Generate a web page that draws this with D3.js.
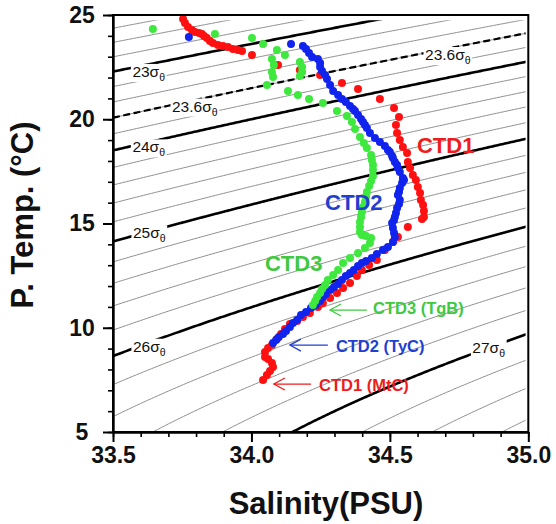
<!DOCTYPE html>
<html>
<head>
<meta charset="utf-8">
<script src="https://cdn.jsdelivr.net/npm/d3@7"></script>
<style>
  body { margin: 0; background: #fff; }
  svg { display: block; font-family: Arial, "Liberation Sans", Helvetica, sans-serif; }
</style>
</head>
<body>
<svg id="chart" width="556" height="524"></svg>
<script>
// ---- Axis ticks ----
const salTicks = [33.5, 34.0, 34.5, 35.0];
const salMinorTicks = d3.range(335, 351).map(k => k / 10);
const tempTicks = [5, 10, 15, 20, 25];
const tempMinorTicks = d3.range(5, 26);

// ---- Density (sigma-theta) contour levels ----
const thinLevels = d3.range(105, 141).map(k => k / 5);
const thickLevels = [23, 24, 25, 26, 27];
const dashedLevels = [23.6];

// ---- CTD1 (MtC) profile: salinity (PSU), potential temperature (°C) ----
const ctd1Sal = [33.753, 33.760, 33.771, 33.785, 33.796, 33.811, 33.821, 33.829, 33.839, 33.850,
  33.861, 33.879, 33.897, 33.915, 33.933, 33.951, 33.966, 34.002, 34.096, 34.175,
  34.248, 34.327, 34.385, 34.464, 34.515, 34.533, 34.522, 34.526, 34.536, 34.547,
  34.562, 34.565, 34.573, 34.583, 34.594, 34.601, 34.609, 34.612, 34.620, 34.623,
  34.623, 34.616, 34.565, 34.529, 34.511, 34.482, 34.453, 34.425, 34.399, 34.381,
  34.356, 34.331, 34.309, 34.284, 34.258, 34.240, 34.211, 34.186, 34.165, 34.139,
  34.121, 34.107, 34.092, 34.074, 34.060, 34.049, 34.049, 34.060, 34.074, 34.078,
  34.067, 34.056, 34.042];
const ctd1Temp = [24.81, 24.62, 24.42, 24.28, 24.18, 24.14, 24.09, 23.99, 23.90, 23.75,
  23.66, 23.56, 23.51, 23.47, 23.37, 23.32, 23.27, 23.08, 22.60, 22.36,
  22.12, 21.74, 21.45, 20.97, 20.54, 20.11, 19.72, 19.34, 19.00, 18.67,
  18.38, 17.95, 17.66, 17.33, 17.09, 16.75, 16.46, 16.13, 15.89, 15.60,
  15.31, 15.22, 14.83, 14.35, 14.11, 13.73, 13.25, 13.01, 12.77, 12.48,
  12.15, 11.91, 11.67, 11.43, 11.19, 11.00, 10.71, 10.52, 10.32, 10.18,
  9.94, 9.70, 9.46, 9.17, 9.03, 8.84, 8.60, 8.50, 8.31, 8.12,
  7.93, 7.73, 7.49];

// ---- CTD2 (TyC) profile ----
const ctd2Sal = [33.774, 34.143, 34.186, 34.197, 34.208, 34.219, 34.240, 34.248, 34.248, 34.255,
  34.266, 34.273, 34.284, 34.295, 34.313, 34.327, 34.341, 34.356, 34.367, 34.374,
  34.385, 34.396, 34.403, 34.410, 34.417, 34.428, 34.446, 34.464, 34.482, 34.493,
  34.500, 34.508, 34.511, 34.518, 34.526, 34.529, 34.536, 34.547, 34.551, 34.544,
  34.536, 34.533, 34.529, 34.536, 34.533, 34.526, 34.522, 34.518, 34.515, 34.508,
  34.511, 34.515, 34.518, 34.511, 34.493, 34.475, 34.453, 34.435, 34.414, 34.399,
  34.385, 34.370, 34.356, 34.341, 34.327, 34.313, 34.298, 34.284, 34.269, 34.258,
  34.248, 34.233, 34.215, 34.197, 34.179, 34.165, 34.150, 34.139, 34.125, 34.114,
  34.099, 34.089, 34.078];
const ctd2Temp = [23.94, 23.61, 23.51, 23.37, 23.18, 22.99, 22.89, 22.70, 22.51, 22.31,
  22.12, 21.93, 21.64, 21.35, 21.16, 20.97, 20.83, 20.64, 20.49, 20.40,
  20.20, 20.01, 19.87, 19.72, 19.58, 19.34, 19.10, 18.91, 18.72, 18.53,
  18.43, 18.24, 18.14, 17.95, 17.81, 17.66, 17.47, 17.18, 17.09, 16.94,
  16.70, 16.51, 16.37, 16.13, 15.94, 15.74, 15.50, 15.31, 15.17, 15.02,
  14.78, 14.54, 14.35, 14.11, 13.87, 13.73, 13.54, 13.35, 13.20, 13.11,
  12.96, 12.77, 12.63, 12.48, 12.29, 12.10, 11.95, 11.81, 11.62, 11.47,
  11.28, 11.09, 10.95, 10.76, 10.61, 10.37, 10.23, 10.04, 9.84, 9.70,
  9.56, 9.41, 9.27];

// ---- CTD3 (TgB) profile ----
const ctd3Sal = [33.644, 33.868, 34.002, 34.042, 34.092, 34.121, 34.074, 34.081, 34.074, 34.078,
  34.056, 34.175, 34.183, 34.183, 34.175, 34.132, 34.168, 34.208, 34.258, 34.309,
  34.345, 34.363, 34.374, 34.392, 34.406, 34.417, 34.432, 34.435, 34.439, 34.439,
  34.439, 34.432, 34.425, 34.417, 34.414, 34.410, 34.403, 34.399, 34.396, 34.392,
  34.392, 34.392, 34.399, 34.414, 34.432, 34.428, 34.410, 34.385, 34.356, 34.331,
  34.313, 34.295, 34.276, 34.266, 34.255, 34.248, 34.237, 34.230, 34.222];
const ctd3Temp = [24.33, 24.09, 23.90, 23.61, 23.32, 23.08, 22.89, 22.60, 22.27, 22.03,
  21.64, 22.75, 22.51, 22.27, 22.07, 21.35, 21.16, 20.97, 20.78, 20.40,
  20.16, 19.87, 19.53, 19.15, 18.86, 18.62, 18.29, 18.05, 17.81, 17.57,
  17.28, 17.04, 16.80, 16.51, 16.27, 16.03, 15.79, 15.55, 15.31, 15.07,
  14.83, 14.59, 14.45, 14.40, 14.30, 14.06, 13.82, 13.58, 13.35, 13.11,
  12.77, 12.53, 12.29, 12.05, 11.86, 11.67, 11.47, 11.28, 11.09];

const series = [
  { name: "CTD1", sal: ctd1Sal, temp: ctd1Temp, color: "#ff1111" },
  { name: "CTD2", sal: ctd2Sal, temp: ctd2Temp, color: "#1124ee" },
  { name: "CTD3", sal: ctd3Sal, temp: ctd3Temp, color: "#3ee83e" }
];

// ---- Scales ----
const svg = d3.select("#chart");
const x = d3.scaleLinear().domain([33.5, 35.0]).range([113, 528.3]);
const y = d3.scaleLinear().domain([5, 25]).range([432, 15]);

// UNESCO EOS-80 density anomaly at surface pressure
function sigmaTheta(S, T) {
  const rw = 999.842594 + 6.793952e-2 * T - 9.095290e-3 * T * T + 1.001685e-4 * T ** 3
    - 1.120083e-6 * T ** 4 + 6.536332e-9 * T ** 5;
  const A = 8.24493e-1 - 4.0899e-3 * T + 7.6438e-5 * T * T - 8.2467e-7 * T ** 3 + 5.3875e-9 * T ** 4;
  const B = -5.72466e-3 + 1.0227e-4 * T - 1.6546e-6 * T * T;
  const C = 4.8314e-4;
  return rw + A * S + B * Math.pow(S, 1.5) + C * S * S - 1000;
}
// temperature at which a given salinity reaches the density level
function tempOnLevel(S, level) {
  let lo = 0, hi = 40;
  for (let i = 0; i < 50; i++) {
    const mid = (lo + hi) / 2;
    if (sigmaTheta(S, mid) > level) lo = mid; else hi = mid;
  }
  return (lo + hi) / 2;
}
const salGrid = d3.range(0, 301).map(k => 33.5 + k * 0.005);
const isoLine = d3.line().x(d => x(d[0])).y(d => y(d[1]));
const isoPath = level => isoLine(salGrid.map(S => [S, tempOnLevel(S, level)]));

// clip for density contours
svg.append("clipPath").attr("id", "isoClip")
  .append("rect")
  .attr("x", x(33.5)).attr("y", y(24.75))
  .attr("width", x(34.99) - x(33.5)).attr("height", y(5) - y(24.75));

const iso = svg.append("g").attr("clip-path", "url(#isoClip)");
iso.selectAll("path.thin").data(thinLevels).join("path")
  .attr("class", "thin").attr("d", isoPath)
  .attr("fill", "none").attr("stroke", "#808080").attr("stroke-width", 0.9);
iso.selectAll("path.thick").data(thickLevels).join("path")
  .attr("class", "thick").attr("d", isoPath)
  .attr("fill", "none").attr("stroke", "#000").attr("stroke-width", 2.6);
iso.selectAll("path.dash").data(dashedLevels).join("path")
  .attr("class", "dash").attr("d", isoPath)
  .attr("fill", "none").attr("stroke", "#000").attr("stroke-width", 2.2)
  .attr("stroke-dasharray", "7,3.5");

// ---- Contour labels (inline, white-backed) ----
const isoLabelText = ["23", "23.6", "23.6", "24", "25", "26", "27"];
const isoLabelPos = [
  [33.570, 22.03], [33.713, 20.37], [34.627, 22.84], [33.570, 18.41],
  [33.572, 14.29], [33.572, 8.85], [34.798, 8.80]
];
const labelLayer = svg.append("g");
isoLabelText.forEach((t, i) => {
  const g = labelLayer.append("g");
  const txt = g.append("text")
    .attr("x", x(isoLabelPos[i][0])).attr("y", y(isoLabelPos[i][1]))
    .attr("font-size", 15.5).attr("fill", "#111");
  txt.append("tspan").text(t + "σ");
  txt.append("tspan").text("θ").attr("font-size", 10.5).attr("dy", 4);
  const bb = txt.node().getBBox();
  g.insert("rect", "text")
    .attr("x", bb.x - 1.5).attr("y", bb.y + 1)
    .attr("width", bb.width + 3).attr("height", bb.height - 2)
    .attr("fill", "#fff");
});

// ---- Data points ----
const pts = svg.append("g");
series.forEach(s => {
  pts.append("g").selectAll("circle")
    .data(s.sal.map((v, i) => [v, s.temp[i]]))
    .join("circle")
    .attr("cx", d => x(d[0])).attr("cy", d => y(d[1]))
    .attr("r", 4).attr("fill", s.color);
});

// ---- Frame ----
svg.append("rect")
  .attr("x", x(33.5)).attr("y", y(25))
  .attr("width", x(35) - x(33.5)).attr("height", y(5) - y(25))
  .attr("fill", "none").attr("stroke", "#000").attr("stroke-width", 2);

// ---- Axes ----
const axisFont = g => g.selectAll("text")
  .attr("font-size", 23).attr("font-weight", "bold").attr("fill", "#111")
  .attr("font-family", "Arial, 'Liberation Sans', Helvetica, sans-serif");

svg.append("g").attr("transform", `translate(0,${y(5)})`)
  .call(d3.axisBottom(x).tickValues(salMinorTicks).tickSize(5).tickSizeOuter(0).tickFormat(""))
  .call(g => g.select(".domain").remove())
  .call(g => g.selectAll("line").attr("stroke-width", 1.6));
svg.append("g").attr("transform", `translate(0,${y(5)})`)
  .call(d3.axisBottom(x).tickValues(salTicks).tickSize(10).tickSizeOuter(0).tickPadding(5)
    .tickFormat(d3.format(".1f")))
  .call(g => g.select(".domain").attr("stroke-width", 2.4))
  .call(g => g.selectAll("line").attr("stroke-width", 2))
  .call(axisFont);

svg.append("g").attr("transform", `translate(${x(33.5)},0)`)
  .call(d3.axisLeft(y).tickValues(tempMinorTicks).tickSize(5).tickSizeOuter(0).tickFormat(""))
  .call(g => g.select(".domain").remove())
  .call(g => g.selectAll("line").attr("stroke-width", 1.6));
svg.append("g").attr("transform", `translate(${x(33.5)},0)`)
  .call(d3.axisLeft(y).tickValues(tempTicks).tickSize(10).tickSizeOuter(0).tickFormat(d3.format("d")))
  .call(g => g.select(".domain").attr("stroke-width", 2.4))
  .call(g => g.selectAll("line").attr("stroke-width", 2))
  .call(axisFont)
  .call(g => g.selectAll("text").attr("x", -31).attr("text-anchor", "middle"));

// ---- Axis titles ----
svg.append("text")
  .attr("x", 326).attr("y", 514).attr("text-anchor", "middle")
  .attr("font-size", 31).attr("font-weight", "bold").attr("fill", "#111")
  .text("Salinity(PSU)");
svg.append("text")
  .attr("transform", "translate(33,215) rotate(-90)").attr("text-anchor", "middle")
  .attr("font-size", 31).attr("font-weight", "bold").attr("fill", "#111")
  .text("P. Temp. (°C)");

// ---- Profile names ----
const nameText = ["CTD1", "CTD2", "CTD3"];
const nameColor = ["#ee1c1c", "#1f3fd1", "#40c840"];
const namePos = [[34.598, 18.38], [34.266, 15.65], [34.049, 12.72]];
nameText.forEach((t, i) => {
  svg.append("text")
    .attr("x", x(namePos[i][0])).attr("y", y(namePos[i][1]))
    .attr("font-size", 22).attr("font-weight", "bold").attr("fill", nameColor[i])
    .text(t);
});

// ---- Station callouts with arrows ----
const stationText = ["CTD3 (TgB)", "CTD2 (TyC)", "CTD1 (MtC)"];
const stationColor = ["#40c840", "#1f3fd1", "#ee1c1c"];
const arrowTip = [[34.284, 10.85], [34.139, 9.17], [34.081, 7.30]];
const arrowTail = [[34.417, 10.85], [34.276, 9.17], [34.215, 7.30]];
const stationPos = [[34.439, 10.66], [34.305, 8.85], [34.244, 6.98]];
stationText.forEach((t, i) => {
  const tx = x(arrowTip[i][0]), ty = y(arrowTip[i][1]);
  const ex = x(arrowTail[i][0]);
  const g = svg.append("g").attr("stroke", stationColor[i]).attr("fill", "none").attr("stroke-width", 1.3);
  g.append("line").attr("x1", tx).attr("y1", ty).attr("x2", ex).attr("y2", ty);
  g.append("polyline").attr("points", `${tx + 11},${ty - 6} ${tx},${ty} ${tx + 11},${ty + 6}`);
  svg.append("text")
    .attr("x", x(stationPos[i][0])).attr("y", y(stationPos[i][1]))
    .attr("font-size", 16.5).attr("font-weight", "bold").attr("fill", stationColor[i])
    .text(t);
});
</script>
</body>
</html>
